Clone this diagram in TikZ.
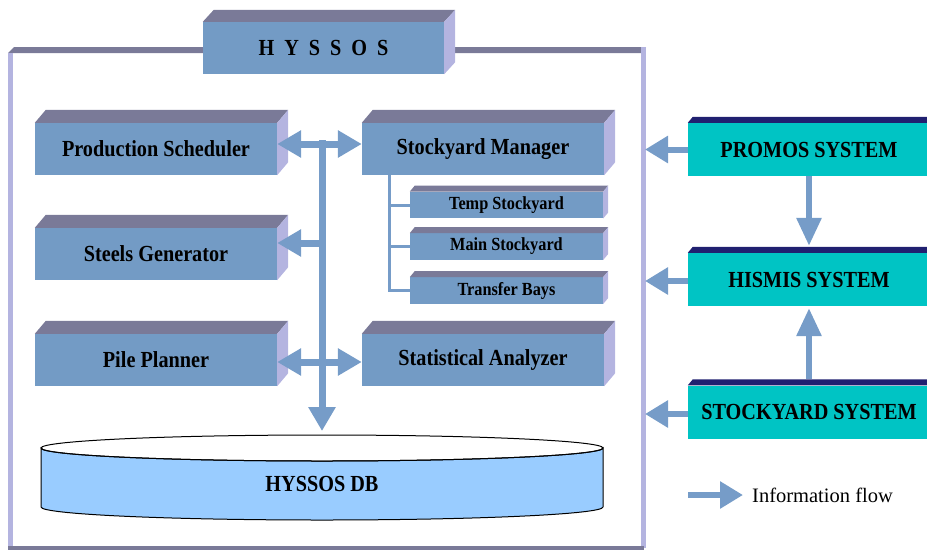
\documentclass[tikz,border=0pt]{standalone}
\usepackage{fontspec}
\setmainfont{Liberation Serif}
\newfontfamily\bfc{Liberation Serif}[FakeStretch=0.88]
\usetikzlibrary{arrows.meta}
\definecolor{frontc}{RGB}{115,155,197}
\definecolor{topc}{RGB}{122,122,152}
\definecolor{sidec}{RGB}{180,180,224}
\definecolor{arr}{RGB}{118,156,200}
\definecolor{cyanbox}{RGB}{0,196,196}
\definecolor{navyc}{RGB}{32,32,112}
\definecolor{dbc}{RGB}{153,204,255}
\newcommand\faces[5]{%
  \fill[#4] (#1.north west) -- ++(#2,-#3) -- ([shift={(#2,-#3)}]#1.north east) -- (#1.north east) -- cycle;
  \fill[#5] (#1.north east) -- ++(#2,-#3) -- ([shift={(#2,-#3)}]#1.south east) -- (#1.south east) -- cycle;}
\tikzset{
  box/.style={fill=frontc, minimum width=242pt, minimum height=52pt, inner sep=0pt, text=black,
    font=\bfc\bfseries\fontsize{23}{26}\selectfont},
  subbox/.style={box, minimum width=193pt, minimum height=26.5pt, font=\bfc\bfseries\fontsize{18.5}{20}\selectfont},
  sysbox/.style={box, fill=cyanbox, minimum height=53pt},
  flow/.style={draw=arr, line width=7pt, -{Triangle[width=26pt,length=24pt]}},
  dflow/.style={draw=arr, line width=7pt, {Triangle[width=26pt,length=24pt]}-{Triangle[width=26pt,length=24pt]}},
  sflow/.style={draw=arr, line width=6pt, -{Triangle[width=26pt,length=23pt]}},
  vflow/.style={draw=arr, line width=6pt, -{Triangle[width=24pt,length=28pt]}},
  tree/.style={draw=arr, line width=3pt},
}
\begin{document}
\begin{tikzpicture}[x=1pt,y=-1pt]
\useasboundingbox (0,0) rectangle (927,550);
% outer frame
\fill[topc] (8,53) -- (14,47) -- (646,47) -- (641,53) -- cycle;
\fill[sidec] (8,53) rectangle (13,548);
\fill[sidec] (641,47) rectangle (646,548);
\fill[topc] (8,546) rectangle (644,550);
% HYSSOS title
\node[box, minimum width=241pt] (hy) at (323.5,48) {H\kern10pt Y\kern10pt S\kern10pt S\kern10pt O\kern10pt S};
\faces{hy}{11}{12}{topc}{sidec}
% modules
\node[box] (ps) at (156,149) {Production Scheduler};
\faces{ps}{11}{13}{topc}{sidec}
\node[box] (sm) at (483,149) {Stockyard Manager};
\faces{sm}{11}{13}{topc}{sidec}
\node[box] (sg) at (156,254) {Steels Generator};
\faces{sg}{11}{13}{topc}{sidec}
\node[box] (pp) at (156,360) {Pile Planner};
\faces{pp}{11}{13}{topc}{sidec}
\node[box] (sa) at (483,360) {Statistical Analyzer};
\faces{sa}{11}{13}{topc}{sidec}
% stockyard sub boxes
\node[subbox] (ts) at (506.5,205) {Temp Stockyard};
\faces{ts}{5}{6}{topc}{sidec}
\node[subbox] (ms) at (506.5,246.5) {Main Stockyard};
\faces{ms}{5}{6}{topc}{sidec}
\node[subbox] (tb) at (506.5,290.5) {Transfer Bays};
\faces{tb}{5}{6}{topc}{sidec}
\draw[tree] (sm.south west) ++(28,0) |- (ts.west);
\draw[tree] (sm.south west) ++(28,0) |- (ms.west);
\draw[tree] (sm.south west) ++(28,0) |- (tb.west);
% database
\draw[line width=1pt, fill=dbc] (41,448) -- (41,507) arc[start angle=180, end angle=0, x radius=281, y radius=13] -- (603,448) arc[start angle=0, end angle=180, x radius=281, y radius=13] -- cycle;
\draw[line width=1pt] (322,448) ellipse [x radius=281, y radius=13];
\node[font=\bfc\bfseries\fontsize{23}{26}\selectfont] (db) at (322,484) {HYSSOS DB};
\coordinate (dbtop) at (322,431);
% bus
\coordinate (bt) at (322,140);
\coordinate (b2) at (322,243);
\draw[flow] (bt) -- (dbtop);
\draw[dflow] ([yshift=5pt]ps.east) -- ([yshift=5pt]sm.west);
\draw[flow] (b2) -- ([yshift=11pt]sg.east);
\draw[dflow] ([yshift=-2pt]pp.east) -- ([yshift=-2pt]sa.west);
% external systems
\node[sysbox] (pr) at (809,149.5) {PROMOS SYSTEM};
\faces{pr}{5}{6}{navyc}{navyc}
\node[sysbox] (hi) at (809,279.5) {HISMIS SYSTEM};
\faces{hi}{5}{6}{navyc}{navyc}
\node[sysbox] (st) at (809,412) {STOCKYARD SYSTEM};
\faces{st}{5}{6}{navyc}{navyc}
\coordinate (f1) at (645,149.5);
\coordinate (f2) at (645,281);
\coordinate (f3) at (645,414);
\draw[sflow] (pr.west) -- (f1);
\draw[sflow] ([yshift=-1.5pt]hi.west) -- (f2);
\draw[sflow] ([yshift=-2pt]st.west) -- (f3);
\draw[vflow] (pr.south) -- ([yshift=7pt]hi.north);
\draw[vflow] ([yshift=6pt]st.north) -- ([yshift=-2pt]hi.south);
% legend
\coordinate (l1) at (688,495);
\coordinate (l2) at (743,495);
\draw[sflow] (l1) -- (l2);
\node[anchor=west, inner sep=0pt, font=\fontsize{20.5}{24}\selectfont] (leg) at (752,495) {Information flow};
\end{tikzpicture}
\end{document}
